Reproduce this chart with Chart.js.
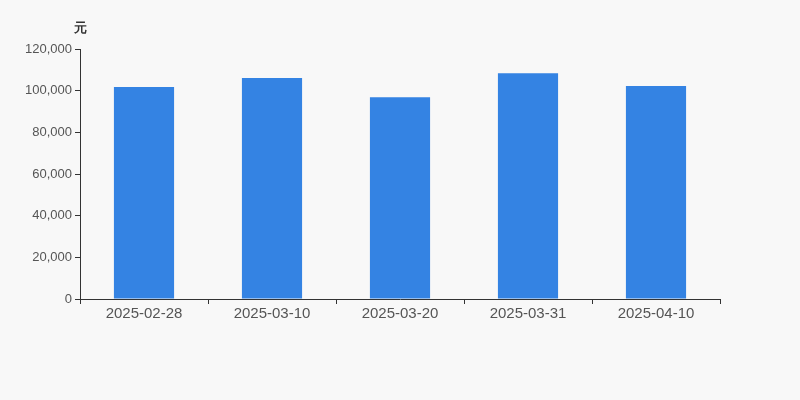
<!DOCTYPE html>
<html><head><meta charset="utf-8">
<script src="https://cdn.jsdelivr.net/npm/chart.js@4/dist/chart.umd.min.js"></script>
<style>html,body{margin:0;padding:0;background:#f8f8f8;}#wrap{width:800px;height:400px;}</style>
</head><body><div id="wrap"><canvas id="c"></canvas></div>
<script>
const categories = ['2025-02-28','2025-03-10','2025-03-20','2025-03-31','2025-04-10'];
const values = [101800, 106100, 96900, 108400, 102200];
const unitLabel = '元';

const unitPlugin = {
  id: 'unit',
  afterDraw(chart) {
    const ctx = chart.ctx, y = chart.scales.y;
    ctx.save();
    ctx.font = 'bold 13px "Liberation Sans", Arial, sans-serif';
    ctx.fillStyle = '#333';
    ctx.textAlign = 'center';
    ctx.textBaseline = 'middle';
    ctx.fillText(unitLabel, y.right, y.top - 21);
    ctx.restore();
  }
};

new Chart(document.getElementById('c'), {
  type: 'bar',
  data: { labels: categories, datasets: [{ data: values, backgroundColor: '#3483e3', barPercentage: 0.47, categoryPercentage: 1 }] },
  options: {
    responsive: true, maintainAspectRatio: false, animation: false,
    layout: { padding: { top: 49, right: 80, left: 0, bottom: 0 } },
    plugins: { legend: { display: false }, tooltip: { enabled: false } },
    scales: {
      x: {
        offset: true,
        grid: { offset: true, drawOnChartArea: false, drawTicks: true, tickLength: 5, color: '#333' },
        border: { color: '#333' },
        ticks: { color: '#555', font: { size: 15, family: '"Liberation Sans", Arial, sans-serif' }, padding: 1, maxRotation: 0 },
        afterFit(s) { s.height = 101; }
      },
      y: {
        min: 0, max: 120000,
        grid: { drawOnChartArea: false, drawTicks: true, tickLength: 5, color: '#333' },
        border: { color: '#333' },
        ticks: { stepSize: 20000, color: '#555', font: { size: 13, family: '"Liberation Sans", Arial, sans-serif' }, padding: 3,
          callback: v => v.toLocaleString('en-US') },
        afterFit(s) { s.width = 80; }
      }
    }
  },
  plugins: [unitPlugin]
});
</script></body></html>
